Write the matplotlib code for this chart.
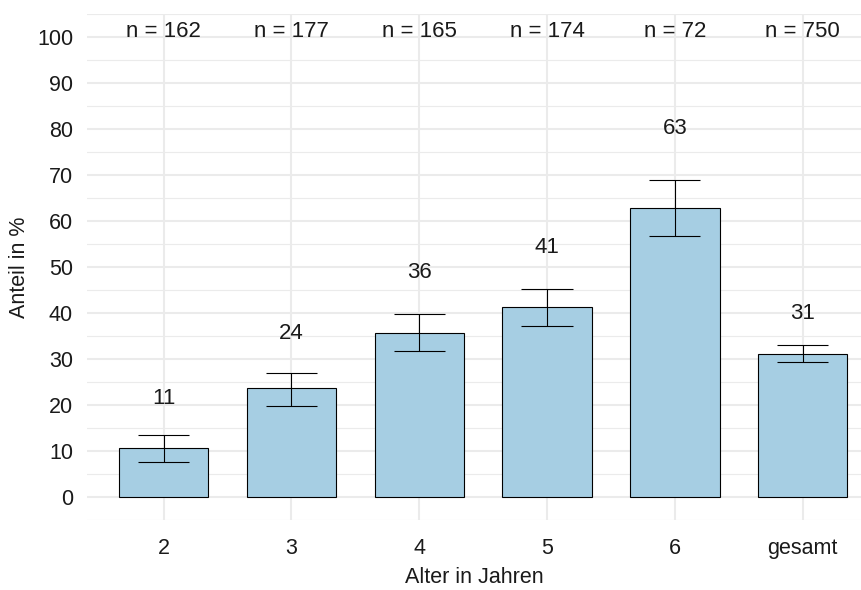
import numpy as np
import matplotlib
matplotlib.use("Agg")
import matplotlib.pyplot as plt

plt.rcParams['font.family'] = ['Liberation Sans', 'DejaVu Sans']

# Werte
categories = ['2', '3', '4', '5', '6', 'gesamt']
n_counts = [162, 177, 165, 174, 72, 750]
shares = [10.6, 23.6, 35.7, 41.2, 62.8, 31.1]
ci_lower = [7.7, 19.8, 31.7, 37.2, 56.7, 29.3]
ci_upper = [13.5, 27.0, 39.8, 45.2, 68.9, 33.0]

text_col = '#1a1a1a'
grid_col = '#ebebeb'

fig = plt.figure(figsize=(8.62, 5.90), dpi=100)
ax = fig.add_axes([87 / 862, 70 / 590, 1 - 87 / 862, 506 / 590])

x = np.arange(len(categories))
shares = np.array(shares)
lo = np.array(ci_lower)
hi = np.array(ci_upper)

ax.bar(x, shares, width=0.7, color='#a6cee3', edgecolor='black', linewidth=0.8, zorder=2)
ax.vlines(x, lo, hi, color='black', linewidth=0.8, zorder=3)
# Querstriche der Fehlerbalken
ax.hlines(lo, x - 0.2, x + 0.2, color='black', linewidth=0.8, zorder=3)
ax.hlines(hi, x - 0.2, x + 0.2, color='black', linewidth=0.8, zorder=3)

# Prozentwerte über den Balken
for xi, s, l, h in zip(x, shares, lo, hi):
    ax.text(xi, h + (h - l) / 2 + 5, '{:.0f}'.format(s), ha='center', va='center',
            fontsize=16, color=text_col)

# Fallzahlen oben
for xi, n in zip(x, n_counts):
    ax.text(xi, 100, 'n = {}'.format(n), ha='center', va='baseline',
            fontsize=16, color=text_col)

ax.set_xlim(-0.6, 5.465)
ax.set_ylim(-5, 105)
ax.set_xticks(x)
ax.set_xticklabels(categories)
ax.set_yticks(np.arange(0, 101, 10))
ax.set_yticks(np.arange(-5, 106, 10), minor=True)
ax.tick_params(axis='both', which='both', length=0, labelsize=15.5, colors=text_col)
ax.tick_params(axis='x', pad=13)
ax.tick_params(axis='y', pad=10)

ax.grid(True, which='major', color=grid_col, linewidth=1.5, zorder=0)
ax.grid(True, which='minor', axis='y', color=grid_col, linewidth=0.8, zorder=0)
ax.set_axisbelow(True)
for sp in ax.spines.values():
    sp.set_visible(False)

ax.set_xlabel('Alter in Jahren', fontsize=15.5, color=text_col, labelpad=6)
ax.set_ylabel('Anteil in %', fontsize=15.5, color=text_col, labelpad=5)

fig.savefig('out.png', dpi=100)
